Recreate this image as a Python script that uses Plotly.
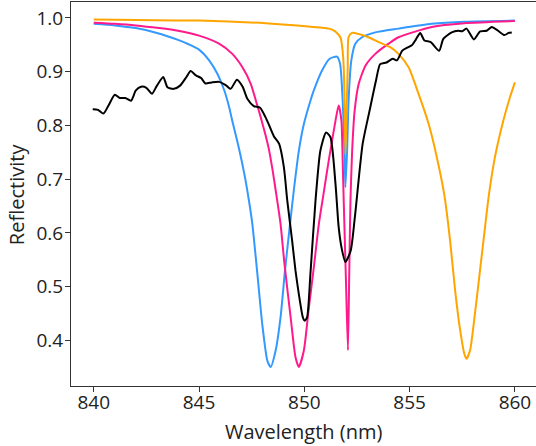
import plotly.graph_objects as go

# ---- data ----
blue_x = [840.0, 841.0, 842.0, 843.0, 844.0, 844.5, 845.0, 845.48, 845.87, 846.2, 846.43, 846.6, 846.85,
          847.15, 847.37, 847.53, 847.77, 848.0, 848.24, 848.4, 848.64, 848.87, 849.08, 849.27, 849.5,
          849.74, 849.98, 850.29, 850.45, 850.84, 851.2, 851.55, 851.7, 851.82, 851.91, 851.95, 852.03,
          852.1, 852.23, 852.42, 852.74, 853.37, 854.47, 856.05, 857.6, 860.0]
blue_y = [0.989, 0.986, 0.981, 0.972, 0.959, 0.951, 0.941, 0.921, 0.896, 0.865, 0.834, 0.805, 0.765,
          0.710, 0.660, 0.617, 0.524, 0.431, 0.363, 0.351, 0.382, 0.443, 0.530, 0.599, 0.679,
          0.753, 0.803, 0.846, 0.865, 0.902, 0.924, 0.928, 0.914, 0.846, 0.753, 0.685, 0.753,
          0.846, 0.921, 0.952, 0.964, 0.973, 0.980, 0.989, 0.993, 0.995]

pink_x = [840.0, 841.0, 842.0, 843.1, 844.0, 845.0, 845.95, 846.58, 847.06, 847.46, 847.7, 847.93,
          848.15, 848.32, 848.5, 848.64, 848.87, 849.05, 849.35, 849.58, 849.74, 849.98, 850.2, 850.45,
          850.69, 850.9, 851.16, 851.48, 851.63, 851.76, 851.82, 851.87, 851.97, 852.07, 852.13, 852.19,
          852.27, 852.39, 852.58, 852.9, 853.37, 854.0, 854.47, 856.05, 857.6, 860.0]
pink_y = [0.991, 0.989, 0.986, 0.981, 0.976, 0.967, 0.952, 0.933, 0.908, 0.877, 0.846, 0.815,
          0.783, 0.755, 0.715, 0.679, 0.617, 0.545, 0.443, 0.369, 0.351, 0.382, 0.456, 0.536,
          0.617, 0.670, 0.735, 0.809, 0.837, 0.809, 0.735, 0.660, 0.520, 0.382, 0.520, 0.660,
          0.753, 0.828, 0.877, 0.911, 0.933, 0.952, 0.964, 0.983, 0.990, 0.994]

orange_x = [840.0, 842.0, 845.0, 848.16, 850.2, 851.16, 851.32, 851.55, 851.72, 851.8, 851.87, 851.92,
            851.95, 852.0, 852.06, 852.1, 852.26, 852.58, 853.05, 853.53, 854.1, 854.47, 854.95,
            855.42, 855.9, 856.29, 856.65, 856.92, 857.16, 857.4, 857.6, 857.7, 857.87, 858.1,
            858.34, 858.58, 858.76, 859.05, 859.45, 859.76, 860.0]
orange_y = [0.997, 0.996, 0.995, 0.990, 0.984, 0.980, 0.978, 0.972, 0.963, 0.945, 0.908, 0.815,
            0.747, 0.815, 0.908, 0.964, 0.972, 0.970, 0.964, 0.955, 0.945, 0.933, 0.908,
            0.859, 0.803, 0.741, 0.670, 0.586, 0.493, 0.419, 0.375, 0.366, 0.382, 0.450,
            0.530, 0.611, 0.670, 0.741, 0.809, 0.852, 0.880]

black_x = [839.95, 840.2, 840.46, 840.7, 841.0, 841.24, 841.5, 841.77, 842.0, 842.25, 842.5, 842.77,
           843.0, 843.3, 843.5, 843.8, 844.1, 844.4, 844.6, 844.85, 845.1, 845.3, 845.6, 845.95,
           846.3, 846.5, 846.8, 847.07, 847.3, 847.6, 847.9, 848.16, 848.33, 848.55, 848.8, 849.03,
           849.19, 849.42, 849.58, 849.74, 849.93, 850.02, 850.13, 850.29, 850.53, 850.76, 851.03,
           851.24, 851.48, 851.63, 851.78, 851.95, 852.2, 852.4, 852.77, 853.1, 853.4, 853.6, 853.9,
           854.2, 854.4, 854.65, 854.9, 855.1, 855.3, 855.5, 855.7, 856.0, 856.4, 856.6, 857.0,
           857.3, 857.5, 857.7, 858.05, 858.35, 858.66, 858.9, 859.2, 859.5, 859.7, 859.85]
black_y = [0.830, 0.829, 0.822, 0.837, 0.857, 0.851, 0.851, 0.846, 0.865, 0.872, 0.870, 0.859,
           0.874, 0.890, 0.871, 0.868, 0.874, 0.890, 0.901, 0.893, 0.888, 0.878, 0.880, 0.881,
           0.874, 0.868, 0.885, 0.872, 0.849, 0.836, 0.833, 0.815, 0.800, 0.780, 0.766, 0.722,
           0.660, 0.586, 0.530, 0.486, 0.443, 0.437, 0.443, 0.525, 0.660, 0.753, 0.787,
           0.778, 0.691, 0.611, 0.570, 0.546, 0.567, 0.630, 0.766, 0.828, 0.883, 0.914, 0.917,
           0.924, 0.921, 0.939, 0.945, 0.949, 0.960, 0.972, 0.958, 0.955, 0.939, 0.961, 0.973,
           0.976, 0.975, 0.980, 0.960, 0.975, 0.976, 0.983, 0.976, 0.968, 0.972, 0.973]

x_ticks = [840, 845, 850, 855, 860]
y_ticks = [0.4, 0.5, 0.6, 0.7, 0.8, 0.9, 1.0]
y_tick_text = ["0.4", "0.5", "0.6", "0.7", "0.8", "0.9", "1.0"]

FONT = "Open Sans"

fig = go.Figure()
for xs, ys, col in [(blue_x, blue_y, "#3399FF"), (pink_x, pink_y, "#FF1A8C"),
                    (orange_x, orange_y, "#FFA500"), (black_x, black_y, "#000000")]:
    fig.add_trace(go.Scatter(x=xs, y=ys, mode="lines",
                             line=dict(color=col, width=2, shape="spline", smoothing=0.6),
                             showlegend=False, hoverinfo="skip", cliponaxis=True))

axis_common = dict(showgrid=False, zeroline=False, showline=True, linecolor="#333333", linewidth=1,
                   ticks="outside", ticklen=5, tickwidth=1, tickcolor="#333333", automargin=False,
                   tickfont=dict(family=FONT, size=19, color="#222222"))

fig.update_xaxes(range=[838.92, 861.0], tickvals=x_ticks, mirror=True, ticklabelstandoff=-6,
                 **axis_common)
fig.update_yaxes(range=[0.3155, 1.0295], tickvals=y_ticks, ticktext=y_tick_text, mirror=False,
                 ticklabelstandoff=-2, **axis_common)

fig.add_annotation(text="Wavelength (nm)", xref="paper", yref="paper", x=0.5, y=-0.118,
                   xanchor="center", yanchor="middle", showarrow=False,
                   font=dict(family=FONT, size=20, color="#222222"))
fig.add_annotation(text="Reflectivity", xref="paper", yref="paper", x=-0.118, y=0.5,
                   xanchor="center", yanchor="middle", showarrow=False, textangle=-90,
                   font=dict(family=FONT, size=20, color="#222222"))

fig.update_layout(width=536, height=446, margin=dict(l=71, r=0, t=2, b=60, autoexpand=False),
                  paper_bgcolor="white", plot_bgcolor="white")

fig.write_html("out.html", config={"displayModeBar": False, "staticPlot": True},
               post_script="document.body.style.margin='0';document.body.style.overflow='hidden';")
